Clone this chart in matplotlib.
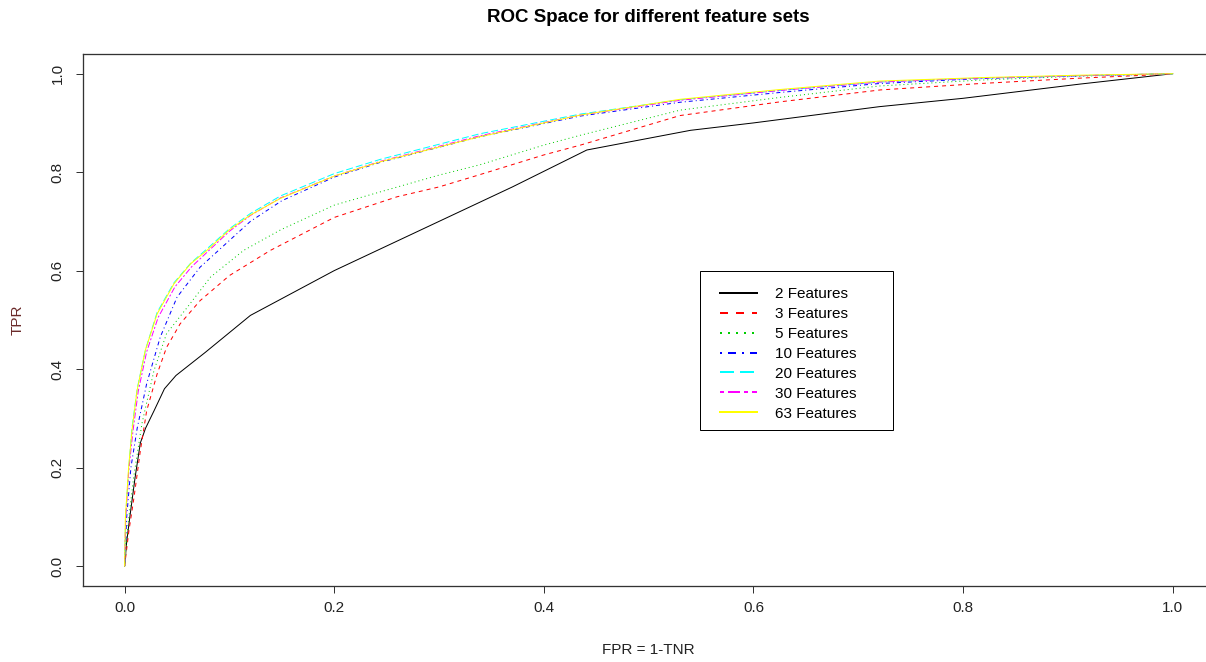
import numpy as np
import matplotlib.pyplot as plt
from matplotlib.lines import Line2D
from matplotlib.patches import Rectangle

plt.rcParams["font.family"] = ["Liberation Sans", "DejaVu Sans"]

# ROC points (FPR, TPR)
fpr_2 = [0, 0.002, 0.005, 0.010, 0.015, 0.020, 0.028, 0.038, 0.049, 0.077, 0.120,
         0.200, 0.280, 0.370, 0.441, 0.540, 0.600, 0.720, 0.800, 0.912, 0.975, 1.0]
tpr_2 = [0, 0.050, 0.100, 0.180, 0.250, 0.280, 0.315, 0.360, 0.387, 0.434, 0.509,
         0.600, 0.680, 0.770, 0.845, 0.885, 0.900, 0.933, 0.950, 0.979, 0.994, 1.0]

fpr_3 = [0, 0.004, 0.009, 0.015, 0.021, 0.031, 0.040, 0.053, 0.072, 0.100, 0.139,
         0.200, 0.260, 0.300, 0.339, 0.400, 0.435, 0.530, 0.626, 0.721, 0.816, 0.912, 0.975, 1.0]
tpr_3 = [0, 0.070, 0.140, 0.234, 0.315, 0.390, 0.444, 0.492, 0.539, 0.590, 0.641,
         0.708, 0.750, 0.770, 0.795, 0.835, 0.855, 0.915, 0.943, 0.967, 0.980, 0.991, 0.997, 1.0]

fpr_5 = [0, 0.003, 0.0086, 0.0166, 0.028, 0.040, 0.060, 0.082, 0.1135, 0.149,
         0.200, 0.244, 0.300, 0.339, 0.400, 0.435, 0.530, 0.626, 0.720, 0.816, 0.912, 1.0]
tpr_5 = [0, 0.080, 0.180, 0.290, 0.397, 0.472, 0.526, 0.587, 0.641, 0.683,
         0.733, 0.760, 0.794, 0.815, 0.855, 0.875, 0.926, 0.952, 0.975, 0.987, 0.995, 1.0]

fpr_10 = [0, 0.002, 0.006, 0.012, 0.021, 0.034, 0.050, 0.072, 0.088, 0.120, 0.150,
          0.200, 0.244, 0.339, 0.435, 0.530, 0.626, 0.720, 0.816, 0.912, 1.0]
tpr_10 = [0, 0.100, 0.200, 0.280, 0.370, 0.465, 0.546, 0.607, 0.638, 0.700, 0.742,
          0.790, 0.820, 0.872, 0.914, 0.942, 0.962, 0.980, 0.990, 0.996, 1.0]

fpr_20 = [0, 0.001, 0.004, 0.007, 0.012, 0.020, 0.031, 0.047, 0.063, 0.079, 0.100,
          0.120, 0.149, 0.200, 0.244, 0.339, 0.435, 0.530, 0.626, 0.720, 0.816, 0.912, 1.0]
tpr_20 = [0, 0.100, 0.200, 0.280, 0.360, 0.440, 0.515, 0.575, 0.615, 0.645, 0.685,
          0.716, 0.752, 0.797, 0.826, 0.878, 0.918, 0.947, 0.966, 0.983, 0.991, 0.996, 1.0]

fpr_30 = [0, 0.001, 0.004, 0.008, 0.013, 0.021, 0.032, 0.048, 0.064, 0.080, 0.100,
          0.120, 0.149, 0.200, 0.244, 0.339, 0.435, 0.530, 0.626, 0.720, 0.816, 0.912, 1.0]
tpr_30 = [0, 0.095, 0.195, 0.275, 0.355, 0.435, 0.505, 0.567, 0.608, 0.640, 0.680,
          0.712, 0.748, 0.792, 0.822, 0.874, 0.916, 0.946, 0.966, 0.983, 0.991, 0.996, 1.0]

fpr_63 = [0, 0.0007, 0.0038, 0.007, 0.0118, 0.0197, 0.031, 0.047, 0.063, 0.0785, 0.100,
          0.120, 0.149, 0.200, 0.244, 0.339, 0.435, 0.530, 0.626, 0.720, 0.816, 0.912, 1.0]
tpr_63 = [0, 0.098, 0.200, 0.275, 0.356, 0.438, 0.512, 0.573, 0.614, 0.641, 0.683,
          0.713, 0.747, 0.792, 0.821, 0.872, 0.916, 0.948, 0.968, 0.985, 0.992, 0.997, 1.0]

labels = ["2 Features", "3 Features", "5 Features", "10 Features",
          "20 Features", "30 Features", "63 Features"]
colors = ["black", "#FF0000", "#00CD00", "#0000FF", "#00FFFF", "#FF00FF", "#FFFF00"]
# R lty 1..6 : solid, dashed, dotted, dotdash, longdash, twodash
styles = ["-", (0, (4, 4)), (0, (1, 3)), (0, (1, 3, 4, 3)), (0, (7, 3)), (0, (2, 2, 6, 2)), "-"]

curves = [(fpr_2, tpr_2), (fpr_3, tpr_3), (fpr_5, tpr_5), (fpr_10, tpr_10),
          (fpr_20, tpr_20), (fpr_30, tpr_30), (fpr_63, tpr_63)]

W, H = 1206, 662
fig = plt.figure(figsize=(W / 100, H / 100), dpi=100)
px = 0.72  # one pixel in points

# plot box in pixels: left 82.7, right 1214.6 (cropped), top 54, bottom 585.7
ax = fig.add_axes([82.7 / W, (H - 585.7) / H, (1214.6 - 82.7) / W, (585.7 - 54) / H])

for (x, y), c, ls in zip(curves, colors, styles):
    ax.plot(x, y, color=c, linestyle=ls, linewidth=px)

ax.set_xlim(-0.04, 1.04)
ax.set_ylim(-0.04, 1.04)
ticks = [0.0, 0.2, 0.4, 0.6, 0.8, 1.0]
ax.set_xticks(ticks)
ax.set_yticks(ticks)
ax.set_xticklabels(["%.1f" % t for t in ticks])
ax.set_yticklabels(["%.1f" % t for t in ticks])
ax.tick_params(length=7 * px, width=px, labelsize=11, color="#333333", labelcolor="#222222")
ax.tick_params(axis="x", pad=8 * px)
ax.tick_params(axis="y", pad=11 * px, labelrotation=90)
for lab in ax.get_yticklabels():
    lab.set_va("center")
for sp in ax.spines.values():
    sp.set_linewidth(px * 1.3)
    sp.set_color("#333333")
ax.spines["right"].set_visible(False)

fig.text(648 / W, 1 - 18 / H, "ROC Space for different feature sets",
         ha="center", va="center", fontsize=13.5, fontweight="bold")
fig.text(648 / W, 1 - 650 / H, "FPR = 1-TNR", ha="center", va="center",
         fontsize=11, color="#222222")
fig.text(18 / W, 1 - 320 / H, "TPR", ha="center", va="center", rotation=90,
         fontsize=11, color="#6b2a2a")

# legend: frame drawn separately so the padding can match the reference
fig.patches.append(Rectangle((700 / W, 1 - 430 / H), 193 / W, 159 / H,
                             transform=fig.transFigure, fill=False,
                             edgecolor="black", linewidth=px))
handles = [Line2D([], [], color=c, linestyle=ls, linewidth=2 * px)
           for c, ls in zip(colors, styles)]
leg = ax.legend(handles, labels, loc="upper left",
                bbox_to_anchor=(720 / W, 1 - 287 / H), bbox_transform=fig.transFigure,
                fontsize=11, frameon=False, borderpad=0,
                handlelength=2.45, handletextpad=1.15, labelspacing=0.39,
                borderaxespad=0)

plt.savefig("out.png", dpi=100)
